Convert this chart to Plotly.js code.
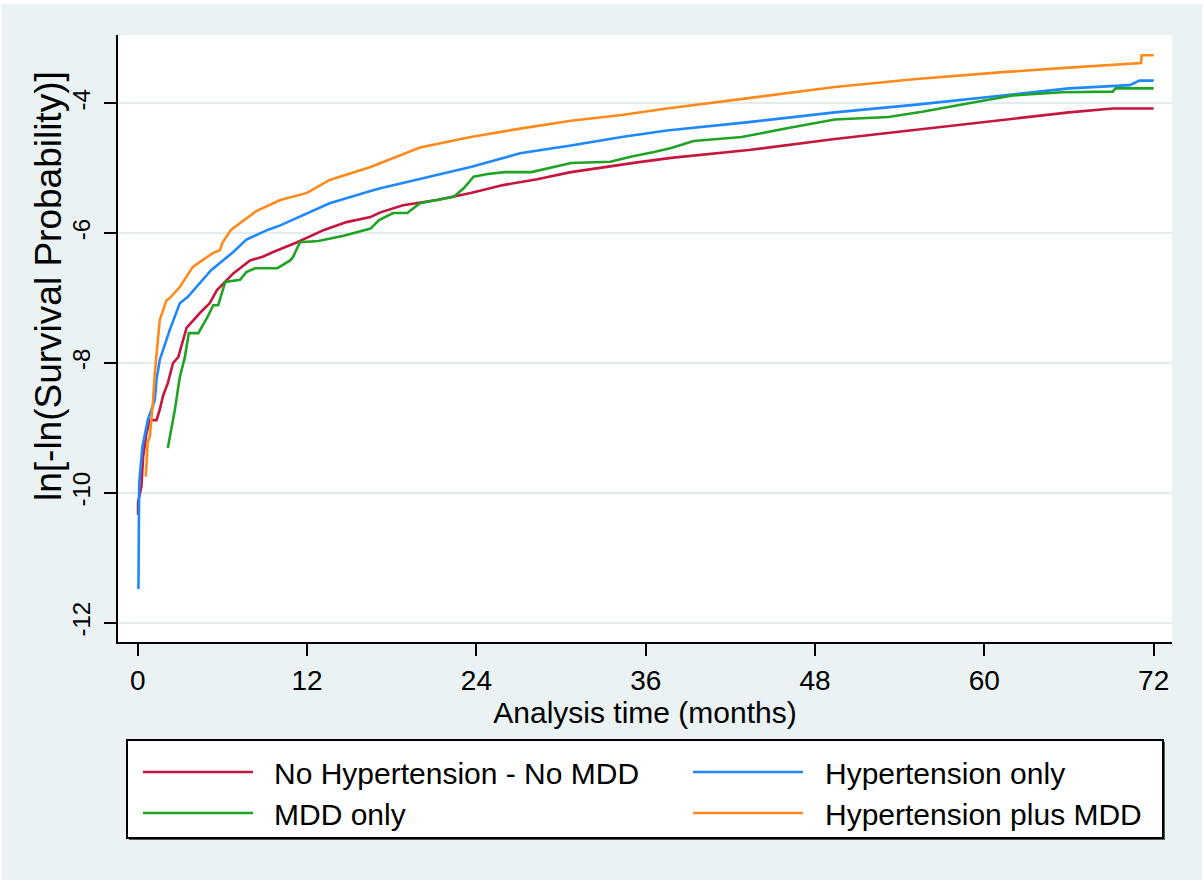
<!DOCTYPE html>
<html><head><meta charset="utf-8">
<script src="https://cdn.plot.ly/plotly-3.0.1.min.js"></script>
<style>html,body{margin:0;padding:0;background:#ffffff;} #chart{position:absolute;left:2px;top:4px;width:1200px;height:876px;}</style>
</head><body><div id="chart"></div>
<script>
const seriesNames = ["No Hypertension - No MDD", "Hypertension only", "MDD only", "Hypertension plus MDD"];
const seriesColors = ["#C5163E", "#1E88FF", "#1FA324", "#FF8A1C"];

const redT = [0.02, 0.02, 0.26, 0.38, 0.62, 0.85, 1.33, 1.56, 1.8, 2.13, 2.5, 2.87, 3.46, 4.4, 5.1, 5.6, 6.77, 7.96, 8.9, 9.6, 11.3, 13.2, 14.8, 16.5, 17.2, 18.8, 21.2, 23.6, 25.9, 28.3, 30.7, 33.1, 35.4, 37.8, 43.3, 49.4, 54.2, 55.6, 61.3, 66.0, 69.1, 72];
const redV = [-10.34, -10.15, -9.9, -9.45, -9.08, -8.88, -8.88, -8.72, -8.5, -8.31, -8.0, -7.91, -7.46, -7.23, -7.08, -6.88, -6.62, -6.42, -6.36, -6.29, -6.14, -5.95, -5.83, -5.75, -5.68, -5.57, -5.49, -5.38, -5.26, -5.17, -5.06, -4.98, -4.91, -4.84, -4.72, -4.55, -4.43, -4.40, -4.26, -4.14, -4.08, -4.08];

const blueT = [0.05, 0.07, 0.1, 0.33, 0.71, 1.21, 1.33, 1.56, 2.27, 2.98, 3.55, 5.2, 6.77, 7.7, 9.2, 10.1, 13.6, 16.5, 17.2, 23.6, 27.1, 30.7, 34.3, 37.5, 43.3, 49.4, 55.2, 61.3, 66.0, 70.3, 71.0, 72];
const blueV = [-11.48, -10.2, -9.85, -9.29, -8.88, -8.57, -8.26, -7.95, -7.49, -7.08, -6.98, -6.57, -6.29, -6.1, -5.95, -5.88, -5.54, -5.35, -5.31, -4.98, -4.77, -4.65, -4.52, -4.42, -4.29, -4.14, -4.02, -3.88, -3.77, -3.72, -3.65, -3.65];

const greenT = [2.13, 2.63, 2.98, 3.34, 3.62, 4.29, 4.9, 5.35, 5.7, 6.2, 7.25, 7.7, 8.3, 9.9, 10.8, 11.0, 11.5, 12.8, 14.6, 16.5, 17.1, 18.1, 19.1, 20.0, 21.2, 22.4, 23.1, 23.8, 24.8, 26.0, 27.9, 29.5, 30.7, 33.5, 35.0, 36.6, 37.8, 39.4, 42.8, 46.1, 49.4, 53.2, 55.6, 58.9, 62.0, 65.5, 69.1, 69.3, 72];
const greenV = [-9.31, -8.72, -8.22, -7.91, -7.54, -7.54, -7.31, -7.11, -7.11, -6.75, -6.72, -6.6, -6.54, -6.54, -6.42, -6.37, -6.14, -6.12, -6.04, -5.93, -5.8, -5.69, -5.69, -5.54, -5.49, -5.44, -5.31, -5.13, -5.09, -5.06, -5.06, -4.98, -4.92, -4.9, -4.82, -4.75, -4.69, -4.58, -4.52, -4.38, -4.25, -4.21, -4.13, -4.0, -3.88, -3.83, -3.82, -3.77, -3.77];

const orangeT = [0.57, 0.7, 0.85, 1.07, 1.21, 1.56, 1.68, 2.04, 2.27, 2.98, 3.9, 5.3, 5.83, 6.0, 6.6, 8.4, 10.1, 12.0, 13.6, 16.5, 20.0, 23.6, 27.1, 30.7, 34.3, 37.5, 43.3, 49.4, 55.0, 61.3, 66.0, 71.1, 71.15, 72];
const orangeV = [-9.75, -9.23, -9.14, -8.62, -8.15, -7.34, -7.26, -7.03, -7.0, -6.83, -6.52, -6.31, -6.26, -6.15, -5.95, -5.66, -5.49, -5.38, -5.18, -4.98, -4.68, -4.52, -4.39, -4.27, -4.18, -4.08, -3.92, -3.75, -3.63, -3.52, -3.45, -3.38, -3.26, -3.26];

const xTicks = [0, 12, 24, 36, 48, 60, 72];
const yTicks = [-12, -10, -8, -6, -4];
const xTitle = "Analysis time (months)";
const yTitle = "ln[-ln(Survival Probability)]";

const allT = [redT, blueT, greenT, orangeT];
const allV = [redV, blueV, greenV, orangeV];

const traces = seriesNames.map((n, i) => ({
  x: allT[i], y: allV[i], name: n, type: "scatter", mode: "lines",
  line: {color: seriesColors[i], width: 2.6, shape: "linear"}, showlegend: false
}));

// page-pixel -> paper coordinate helpers (plot area: x 118..1172, y 35..642 in page pixels)
const PL = 118, PR = 1172, PT = 35, PB = 642;
const px = v => (v - PL) / (PR - PL);
const py = v => (PB - v) / (PB - PT);

const fontFam = "Liberation Sans, Arial, sans-serif";

// legend in the Stata style (box below the plot, two columns)
const legCols = [{line0: 143, line1: 253, text: 272}, {line0: 693, line1: 803, text: 823}];
const legRows = [772, 813];
const shapes = [
  {type: "rect", xref: "paper", yref: "paper", x0: px(129), x1: px(1165), y0: py(840), y1: py(742),
   line: {width: 0}, fillcolor: "#5a5a5a", layer: "above"},
  {type: "rect", xref: "paper", yref: "paper", x0: px(127), x1: px(1163), y0: py(838), y1: py(740),
   line: {color: "#000000", width: 2}, fillcolor: "#FFFFFF", layer: "above"}
];
const annotations = [{
  text: yTitle, xref: "paper", yref: "paper", x: px(48), y: py(286),
  xanchor: "center", yanchor: "middle", textangle: -90, showarrow: false,
  font: {size: 37, family: fontFam, color: "#000"}
}];
seriesNames.forEach((n, i) => {
  const c = legCols[i % 2], r = legRows[Math.floor(i / 2)];
  shapes.push({type: "line", xref: "paper", yref: "paper", x0: px(c.line0), x1: px(c.line1), y0: py(r), y1: py(r),
    line: {color: seriesColors[i], width: 2.6}, layer: "above"});
  annotations.push({text: n, xref: "paper", yref: "paper", x: px(c.text), y: py(r + 1), xanchor: "left", yanchor: "middle",
    showarrow: false, font: {size: 30, family: fontFam, color: "#000"}});
});

const layout = {
  width: 1200, height: 876,
  paper_bgcolor: "#EAF2F3", plot_bgcolor: "#FFFFFF",
  margin: {l: 116, r: 30, t: 31, b: 238},
  font: {family: fontFam, color: "#000000"},
  showlegend: false,
  xaxis: {
    range: [-1.4, 73.3], tickvals: xTicks, ticktext: xTicks.map(String),
    showgrid: false, zeroline: false, showline: true, linecolor: "#000", linewidth: 2,
    ticks: "outside", ticklen: 12, tickwidth: 2, tickcolor: "#000",
    tickfont: {size: 28, family: fontFam},
    title: {text: xTitle, font: {size: 30, family: fontFam}, standoff: 2}
  },
  yaxis: {
    range: [-12.297, -2.948], tickvals: yTicks, ticktext: yTicks.map(String),
    showgrid: true, gridcolor: "#E2ECEE", gridwidth: 2, zeroline: false,
    showline: true, linecolor: "#000", linewidth: 2,
    ticks: "outside", ticklen: 12, tickwidth: 2, tickcolor: "#000",
    tickangle: -90, tickfont: {size: 24, family: fontFam}, ticklabelstandoff: 4
  },
  shapes: shapes,
  annotations: annotations
};

Plotly.newPlot("chart", traces, layout, {displayModeBar: false, staticPlot: true});
</script>
</body></html>
